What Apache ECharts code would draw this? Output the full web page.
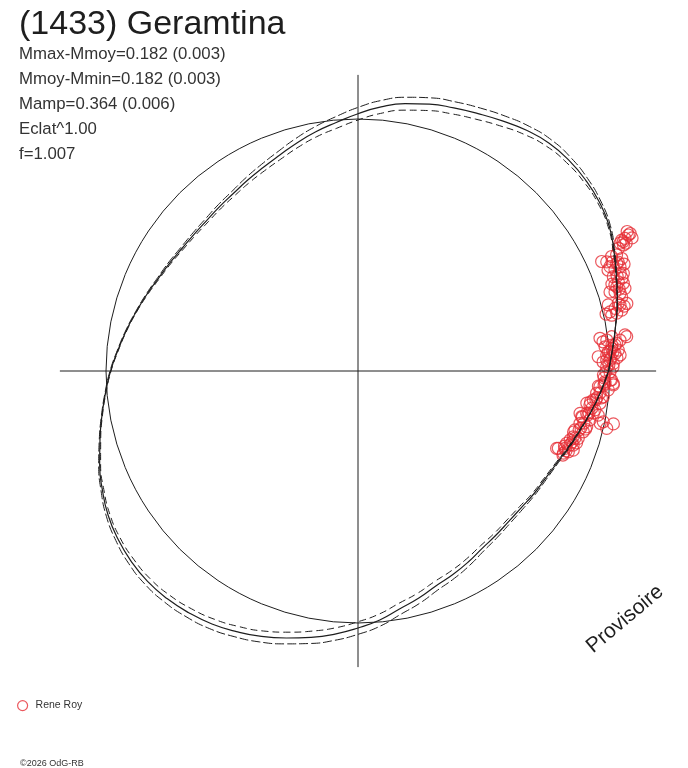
<!DOCTYPE html>
<html>
<head>
<meta charset="utf-8">
<script src="https://cdn.jsdelivr.net/npm/echarts@6/dist/echarts.min.js"></script>
<style>html,body{margin:0;padding:0;background:#fff}#c{width:688px;height:768px}</style>
</head>
<body>
<div id="c"></div>
<script>
// ---- data (relative intensity, circle = 1; phase in degrees) ----
const titleText = '(1433) Geramtina';
const infoLines = ['Mmax-Mmoy=0.182 (0.003)', 'Mmoy-Mmin=0.182 (0.003)', 'Mamp=0.364 (0.006)', 'Eclat^1.00', 'f=1.007'];
const observer = 'Rene Roy';
const copyrightText = '\u00a92026 OdG-RB';
const stampText = 'Provisoire';

const lcPhase = [0,5,10,15,20,25,30,35,40,45,50,55,60,65,70,75,80,85,90,95,100,105,110,115,120,125,130,135,140,145,150,155,160,165,170,175,180,185,190,195,200,205,210,215,220,225,230,235,240,245,250,255,260,265,270,275,280,285,290,295,300,305,310,315,320,325,330,335,340,345,350,355,360];
const lcFlux = [0.994,1.014,1.038,1.065,1.091,1.121,1.151,1.169,1.179,1.183,1.180,1.166,1.146,1.127,1.111,1.096,1.077,1.052,1.021,0.990,0.964,0.937,0.911,0.891,0.875,0.861,0.853,0.847,0.847,0.851,0.861,0.873,0.891,0.911,0.933,0.956,0.982,1.006,1.032,1.060,1.091,1.119,1.145,1.163,1.175,1.181,1.179,1.171,1.159,1.141,1.121,1.097,1.073,1.048,1.020,0.992,0.958,0.933,0.907,0.891,0.875,0.859,0.851,0.845,0.845,0.851,0.857,0.869,0.889,0.911,0.938,0.966,0.994];
const lcErr = [0.001,0,0,0.001,0.002,0.003,0.005,0.007,0.010,0.013,0.016,0.019,0.022,0.024,0.025,0.026,0.026,0.026,0.025,0.023,0.020,0.018,0.016,0.014,0.012,0.010,0.009,0.008,0.007,0.006,0.005,0.004,0.003,0.002,0.002,0.002,0.002,0.002,0.002,0.003,0.004,0.006,0.008,0.010,0.013,0.015,0.017,0.019,0.021,0.022,0.023,0.024,0.025,0.025,0.025,0.024,0.022,0.020,0.018,0.016,0.014,0.012,0.010,0.009,0.008,0.006,0.005,0.004,0.003,0.002,0.001,0.001,0.001];

const obsPhase = [26.7,26.4,26.4,26.8,26.0,25.4,25.2,23.7,24.3,24.2,23.1,22.5,21.5,21.7,20.2,20.3,18.9,18.3,18.0,17.2,17.1,16.5,14.1,14.1,13.7,13.2,13.0,12.4,12.6,7.7,7.1,7.7,6.1,7.7,7.3,5.6,5.1,4.6,3.4,3.7,3.9,3.5,2.5,5.8,4.3,2.9,1.4,359.8,358.4,1.0,359.8,359.1,358.0,357.1,357.2,356.3,355.7,354.7,354.0,353.0,352.4,351.7,350.7,349.5,349.6,348.5,348.1,346.7,346.3,344.8,344.9,343.0,343.0,342.0,340.9,341.0,339.5,338.9,339.0,338.2,347.8,348.3,348.3,347.0,338.7,339.8,352.0,349.2,356.9,24.2,22.6,20.4,18.5,15.7,14.8,14.6,5.8,4.4,2.5,1.7,356.7,354.8,353.1,351.0,349.2,347.0,345.1,342.8,340.8,339.0,22.7,20.1,17.4,27.4,26.0,
  358.0,356.4,353.7,352.4,349.9,348.4,345.7,344.2,341.8,340.0,357.5,353.6,349.7,345.7,341.6,337.7,6.8,6.7,4.3,2.9,2.1,0.9,23.2,22.0,19.4,18.9,21.9,17.4,12.9,13.7,25.5,25.9];
const obsFlux = [1.201,1.183,1.168,1.210,1.157,1.166,1.142,1.078,1.104,1.125,1.138,1.082,1.096,1.119,1.122,1.080,1.092,1.109,1.080,1.109,1.067,1.085,1.100,1.072,1.050,1.027,1.074,1.031,1.052,0.969,0.995,1.016,1.032,1.069,1.075,0.985,1.011,1.036,0.955,0.989,1.022,1.042,1.001,1.013,1.015,1.005,0.996,0.984,0.977,0.987,1.000,0.974,1.007,0.981,1.014,0.962,0.996,0.951,0.979,0.941,0.969,0.930,0.953,0.923,0.969,0.906,0.941,0.905,0.934,0.892,0.926,0.893,0.914,0.885,0.876,0.903,0.877,0.852,0.894,0.878,0.983,0.994,1.035,1.013,0.846,0.910,0.917,0.897,1.015,1.060,1.112,1.110,1.075,1.087,1.027,1.067,1.025,1.003,0.988,1.014,0.978,0.964,0.951,0.940,0.929,0.920,0.908,0.901,0.891,0.884,1.119,1.095,1.086,1.203,1.171,
  1.003,0.956,0.972,0.931,0.949,0.909,0.932,0.889,0.913,0.872,0.981,0.954,0.932,0.913,0.895,0.879,0.979,1.047,0.995,1.029,0.973,1.012,1.097,1.070,1.111,1.065,1.138,1.048,1.010,1.087,1.179,1.209];

// reference axes extent (in circle units)
const axisReachH = 1.183;
const axisReachV = 1.175;

// ---- build ----
const FONT = '"Liberation Sans", Arial, Helvetica, sans-serif';
const INK = '#1e1e1e';
const RED = '#e62e36';
const CENTER = [358, 371];
const CIRCLE_PX = 252;
const OUTER_PX = 330;
const outerUnits = OUTER_PX / CIRCLE_PX;

const curve = lcPhase.map((p, i) => [lcFlux[i], p]);
const upper = lcPhase.map((p, i) => [lcFlux[i] + lcErr[i], p]);
const lower = lcPhase.map((p, i) => [lcFlux[i] - lcErr[i], p]);
const obs = obsPhase.map((p, i) => [obsFlux[i], p]);

const hiddenAxis = {axisLine: {show: false}, axisTick: {show: false}, axisLabel: {show: false}, splitLine: {show: false}};

const chart = echarts.init(document.getElementById('c'), null, {renderer: 'canvas'});
chart.setOption({
  animation: false,
  backgroundColor: '#fff',
  title: {
    text: titleText,
    subtext: infoLines.join('\n'),
    left: 19, top: 9, padding: 0, itemGap: -1,
    textStyle: {fontFamily: FONT, fontSize: 34, fontWeight: 'normal', color: INK, lineHeight: 32},
    subtextStyle: {fontFamily: FONT, fontSize: 16.8, color: '#333', lineHeight: 25}
  },
  legend: {
    data: [observer], left: 17, top: 700, padding: 0,
    icon: 'circle', itemWidth: 10, itemHeight: 10,
    itemStyle: {color: 'transparent', borderColor: RED, borderWidth: 1.2},
    textStyle: {fontFamily: FONT, fontSize: 10.5, color: '#333', padding: [0, 0, 0, 3]}
  },
  polar: [
    {center: CENTER, radius: CIRCLE_PX},
    {center: CENTER, radius: OUTER_PX}
  ],
  angleAxis: [
    Object.assign({polarIndex: 0, type: 'value', min: 0, max: 360, startAngle: 0, clockwise: false}, hiddenAxis,
      {axisLine: {show: true, lineStyle: {color: INK, width: 1}}}),
    Object.assign({polarIndex: 1, type: 'value', min: 0, max: 360, startAngle: 0, clockwise: false}, hiddenAxis)
  ],
  radiusAxis: [
    Object.assign({polarIndex: 0, type: 'value', min: 0, max: 1}, hiddenAxis),
    Object.assign({polarIndex: 1, type: 'value', min: 0, max: outerUnits}, hiddenAxis)
  ],
  series: [
    {type: 'line', coordinateSystem: 'polar', polarIndex: 1, symbol: 'none', silent: true,
     data: [[axisReachH, 0], [0, 0], [axisReachH, 180]], lineStyle: {color: INK, width: 1}},
    {type: 'line', coordinateSystem: 'polar', polarIndex: 1, symbol: 'none', silent: true,
     data: [[axisReachV, 90], [0, 0], [axisReachV, 270]], lineStyle: {color: INK, width: 1}},
    {type: 'line', coordinateSystem: 'polar', polarIndex: 1, symbol: 'none', smooth: true,
     data: upper, lineStyle: {color: INK, width: 1, type: [9, 3]}},
    {type: 'line', coordinateSystem: 'polar', polarIndex: 1, symbol: 'none', smooth: true,
     data: lower, lineStyle: {color: INK, width: 1, type: [7, 4]}},
    {type: 'line', coordinateSystem: 'polar', polarIndex: 1, symbol: 'none', smooth: true,
     data: curve, lineStyle: {color: INK, width: 1.2}},
    {name: observer, type: 'scatter', coordinateSystem: 'polar', polarIndex: 1,
     symbol: 'circle', symbolSize: 12, data: obs,
     itemStyle: {color: 'transparent', borderColor: RED, borderWidth: 1.2}}
  ],
  graphic: [
    {type: 'text', left: 20, top: 759, style: {text: copyrightText, font: '9px ' + FONT, fill: '#333'}},
    {type: 'text', x: 625, y: 619, rotation: 40 * Math.PI / 180,
     style: {text: stampText, font: '21px ' + FONT, fill: INK, align: 'center', verticalAlign: 'middle'}}
  ]
});
</script>
</body>
</html>
